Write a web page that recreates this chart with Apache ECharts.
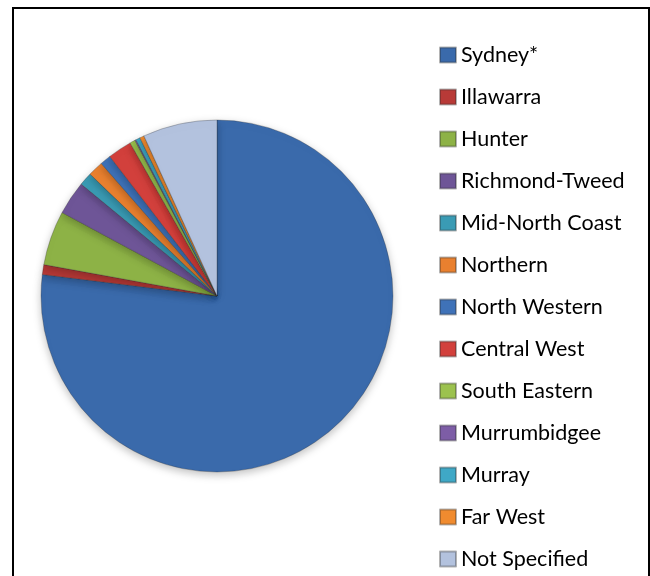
<!DOCTYPE html>
<html>
<head>
<meta charset="utf-8">
<script src="https://cdn.jsdelivr.net/npm/echarts@6/dist/echarts.min.js"></script>
<style>
html,body{margin:0;padding:0;background:#fff;}
#chart{width:650px;height:576px;}
</style>
</head>
<body>
<div id="chart"></div>
<script>
const categories = ["Sydney*","Illawarra","Hunter","Richmond-Tweed","Mid-North Coast","Northern","North Western","Central West","South Eastern","Murrumbidgee","Murray","Far West","Not Specified"];
const values = [76.8, 0.9, 5.0, 3.1, 1.2, 1.4, 1.0, 2.2, 0.5, 0.1, 0.4, 0.4, 6.8];
const colors = ["#3A6AAB","#B83A37","#8DB246","#6E5597","#3A9BB4","#E9802F","#3F72B8","#D2403C","#9CC24F","#7D5DA6","#3FA8C6","#F08B2F","#B3C2DE"];

const chart = echarts.init(document.getElementById('chart'));
chart.setOption({
  animation: false,
  backgroundColor: '#fff',
  color: colors,
  graphic: [{
    type: 'rect',
    shape: {x: 13, y: 8, width: 636, height: 620},
    style: {fill: 'none', stroke: '#000', lineWidth: 2},
    z: 100
  }],
  legend: {
    orient: 'vertical',
    left: 434,
    top: 39,
    height: 537,
    itemWidth: 16,
    itemHeight: 15,
    itemGap: 20,
    icon: 'rect',
    data: categories,
    textStyle: {fontFamily: 'Lato, sans-serif', fontSize: 21.5, lineHeight: 20, color: '#000'}
  },
  series: [{
    type: 'pie',
    center: [217, 296],
    radius: 176,
    startAngle: 90,
    clockwise: true,
    label: {show: false},
    labelLine: {show: false},
    itemStyle: {
      borderColor: 'rgba(40,40,40,0.35)',
      borderWidth: 0.8,
      shadowBlur: 8,
      shadowColor: 'rgba(0,0,0,0.25)',
      shadowOffsetY: 3
    },
    data: categories.map((c, i) => ({name: c, value: values[i]}))
  }]
});
</script>
</body>
</html>
